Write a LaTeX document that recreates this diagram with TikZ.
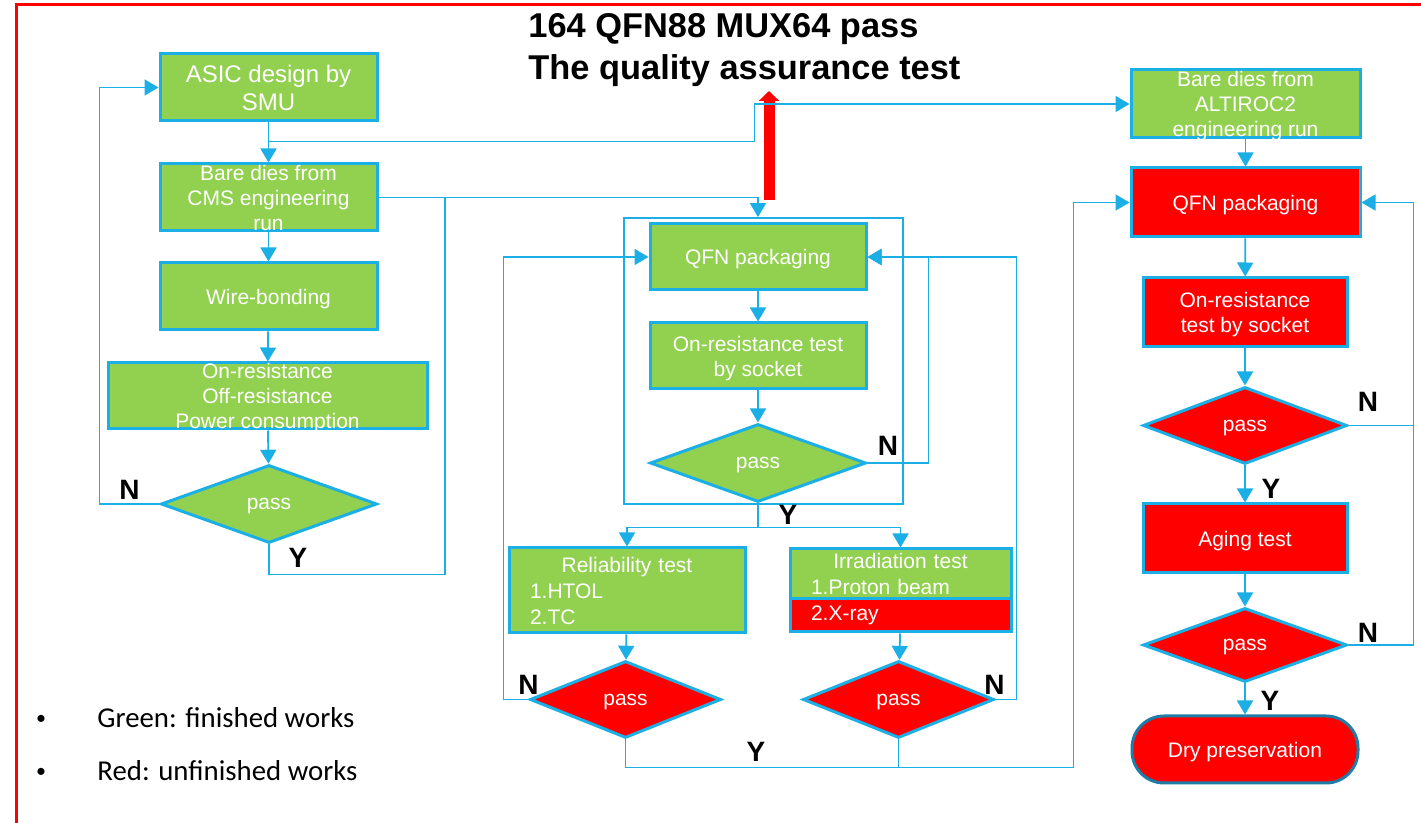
\documentclass[tikz,border=0pt]{standalone}
\usepackage{fontspec}
\setmainfont{Liberation Sans}
\newfontfamily\legendfont{Carlito}
\usetikzlibrary{arrows.meta,shapes.geometric}

\definecolor{qaline}{RGB}{28,175,230}
\definecolor{qagreen}{RGB}{146,208,80}
\definecolor{qared}{RGB}{255,0,0}
\definecolor{qaedge}{RGB}{30,125,168}

\tikzset{
    stepbox/.style={
        draw=qaline,line width=1.5pt,
        text=white,align=center,inner sep=0pt,text depth=0pt,
        font=\fontsize{10.5}{12.5}\selectfont
    },
    done/.style={stepbox,fill=qagreen},
    todo/.style={stepbox,fill=qared},
    tight/.style={inner ysep=-5pt},
    listbox/.style={align=left,inner xsep=10.5pt,text depth=,font=\fontsize{10.5}{13}\selectfont},
    decide/.style={
        diamond,draw=qaline,line width=1.5pt,
        text=white,inner sep=0pt,text depth=0pt,
        font=\fontsize{10.5}{12.5}\selectfont
    },
    flow/.style={draw=qaline,line width=0.9pt,-{Triangle[length=7pt,width=8pt]}},
    link/.style={draw=qaline,line width=0.9pt},
    yn/.style={font=\fontsize{14}{16}\selectfont\bfseries,inner sep=0pt},
    title/.style={font=\fontsize{17.2}{21}\selectfont\bfseries,inner sep=0pt},
    legend/.style={font=\legendfont\fontsize{14.4}{16}\selectfont,inner sep=0pt}
}

\begin{document}
\begin{tikzpicture}[x=0.5pt,y=-0.5pt]
    \useasboundingbox (0,0) rectangle (1421,823);
    \draw[qared,line width=1.3pt] (16.3,823) -- (16.3,4.7) -- (1421,4.7);

    % title and the red arrow
    \node[title,anchor=base west] (titleA) at (528,38) {164 QFN88 MUX64 pass};
    \node[title,anchor=base west] (titleB) at (528,80) {The quality assurance test};
    \coordinate (upfrom) at (769,200);
    \coordinate (upto) at (769,91);
    \draw[qared,line width=5.5pt,-{Triangle[length=5pt,width=10pt]}] (upfrom) -- (upto);

    % left column
    \node[done,minimum width=108.5pt,minimum height=33.5pt,font=\fontsize{12}{14}\selectfont] (asic) at (268.5,87.5) {ASIC design by\\SMU};
    \node[done,tight,minimum width=108.5pt,minimum height=33.5pt] (cms) at (268.5,197.5) {Bare dies from\\CMS engineering\\run};
    \node[done,minimum width=108.5pt,minimum height=33.5pt] (wire) at (268.5,296.5) {Wire-bonding};
    \node[done,tight,minimum width=159.5pt,minimum height=33pt] (meas) at (267.5,396) {On-resistance\\Off-resistance\\Power consumption};
    \node[decide,fill=qagreen,minimum width=108pt,minimum height=39pt] (passA) at (269,504) {pass};
    \coordinate (jA) at (445,197.5);

    \draw[flow] (asic) -- (cms);
    \draw[flow] (cms) -- (wire);
    \draw[flow] (wire) -- (meas);
    \draw[flow] (meas) -- (passA);
    \draw[flow] (passA.west) -- ++(-60,0) |- (asic.west);
    \draw[link] (passA.south) -- ++(0,30) -| (jA);
    \node[yn] (nA) at (129.5,490) {N};
    \node[yn] (yA) at (298,558) {Y};

    % middle column
    \node[draw=qaline,line width=0.9pt,inner sep=0pt,minimum width=139.5pt,minimum height=143pt] (loopbox) at (763.5,361) {};
    \node[done,minimum width=108pt,minimum height=33pt] (qfnB) at (758,257) {QFN packaging};
    \node[done,minimum width=108pt,minimum height=33pt] (sockB) at (758,356) {On-resistance test\\by socket};
    \node[decide,fill=qagreen,minimum width=108pt,minimum height=39pt] (passB) at (758,463) {pass};
    \node[done,listbox,text width=97pt,minimum width=118pt,minimum height=42.5pt] (reli) at (627,590.5)
        {\hspace*{\fill}Reliability test\hspace*{\fill}\null\\1.HTOL\\2.TC};
    \node[done,listbox,text width=89.5pt,minimum width=110.5pt,minimum height=25pt] (irrtop) at (900.5,574)
        {\hspace*{\fill}Irradiation test\hspace*{\fill}\null\\1.Proton beam};
    \node[todo,listbox,text width=89.5pt,minimum width=110.5pt,minimum height=16.5pt] (irrbot) at (900.5,615.5) {2.X-ray};
    \node[decide,fill=qared,minimum width=95.5pt,minimum height=38.5pt] (passC) at (625.5,699.5) {pass};
    \node[decide,fill=qared,minimum width=95.5pt,minimum height=38.5pt] (passD) at (898.5,699.5) {pass};

    \draw[flow] (cms.east) -| (qfnB.north |- loopbox.north);
    \draw[flow] (qfnB) -- (sockB);
    \draw[flow] (sockB) -- (passB);
    \draw[flow] (passB.east) -- ++(61,0) |- (qfnB.east);
    \draw[link] (passB.south) -- ++(0,24) coordinate (splitB);
    \draw[flow] (splitB) -| (reli.north);
    \draw[flow] (splitB) -| (irrtop.north);
    \draw[flow] (reli) -- (passC);
    \draw[flow] (irrbot) -- (passD);
    \draw[flow] (passC.west) -- ++(-25,0) |- (qfnB.west);
    \draw[flow] (passD.east) -- ++(21,0) |- (qfnB.east);
    \node[yn] (nB) at (888,446) {N};
    \node[yn] (yB) at (788,515) {Y};
    \node[yn] (nC) at (528.5,685) {N};
    \node[yn] (nD) at (994.5,685) {N};
    \node[yn] (yC) at (756,752) {Y};

    % right column
    \node[done,tight,minimum width=114.5pt,minimum height=34pt] (alti) at (1245.5,104) {Bare dies from\\ALTIROC2\\engineering run};
    \node[todo,minimum width=114.5pt,minimum height=34.5pt] (qfnC) at (1245.5,202.5) {QFN packaging};
    \node[todo,minimum width=102pt,minimum height=34.5pt] (sockC) at (1245,312.5) {On-resistance\\test by socket};
    \node[decide,fill=qared,minimum width=102pt,minimum height=38.5pt] (passE) at (1245,425.5) {pass};
    \node[todo,minimum width=102pt,minimum height=34.5pt] (aging) at (1245,538.5) {Aging test};
    \node[decide,fill=qared,minimum width=102pt,minimum height=37pt] (passF) at (1245,645) {pass};
    \node[todo,draw=qaedge,rounded corners=16pt,minimum width=113pt,minimum height=33.5pt] (dry) at (1245,749.5) {Dry preservation};

    \draw[flow] ([yshift=-9.5pt]asic.south) -- ++(486,0) |- (alti.west);
    \draw[flow] (passC.south) -- ++(0,28) -- ++(448,0) |- (qfnC.west);
    \draw[link] (passD.south) -- ++(0,28);
    \draw[flow] (alti) -- (qfnC);
    \draw[flow] (qfnC) -- (sockC);
    \draw[flow] (sockC) -- (passE);
    \draw[flow] (passE) -- (aging);
    \draw[flow] (aging) -- (passF);
    \draw[flow] (passF) -- (dry);
    \draw[flow] (passE.east) -- ++(65,0) |- (qfnC.east);
    \draw[link] (passF.east) -| ([xshift=32.5pt]passE.east);
    \node[yn] (nE) at (1368,402) {N};
    \node[yn] (yE) at (1271,489) {Y};
    \node[yn] (nF) at (1368,633) {N};
    \node[yn] (yF) at (1270,701) {Y};

    % legend
    \node[legend,anchor=base,font=\legendfont\fontsize{10}{12}\selectfont] (bulA) at (41,725) {•};
    \node[legend,anchor=base west] (legA) at (97,728) {Green: finished works};
    \node[legend,anchor=base,font=\legendfont\fontsize{10}{12}\selectfont] (bulB) at (41,778) {•};
    \node[legend,anchor=base west] (legB) at (97,781) {Red: unfinished works};
\end{tikzpicture}
\end{document}
